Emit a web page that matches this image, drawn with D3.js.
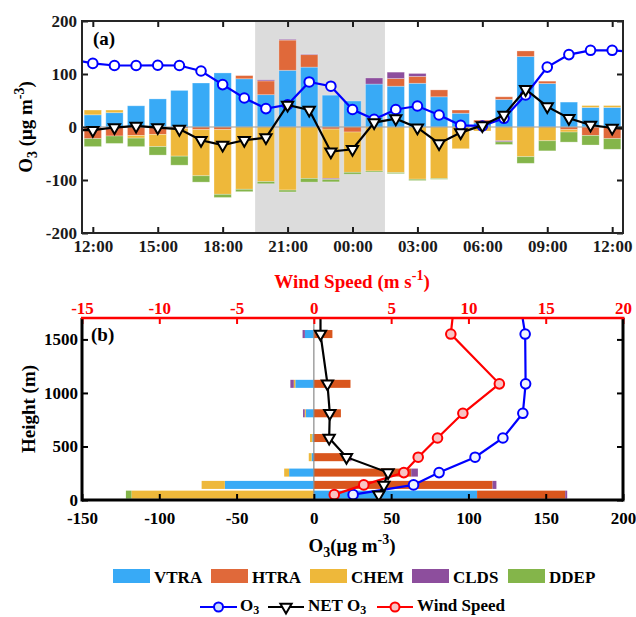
<!DOCTYPE html>
<html>
<head>
<meta charset="utf-8">
<script src="https://cdn.jsdelivr.net/npm/d3@7"></script>
<style>
body{margin:0;background:#fff;}
svg text{font-family:"Liberation Serif","Times New Roman",serif;font-weight:bold;}
</style>
</head>
<body>
<div id="canvas"></div>
<script>
// ---- panel (a): diurnal budget, 12:00 -> 12:00 next day
const hourLabels = ["12:00","13:00","14:00","15:00","16:00","17:00","18:00","19:00","20:00","21:00","22:00","23:00",
  "00:00","01:00","02:00","03:00","04:00","05:00","06:00","07:00","08:00","09:00","10:00","11:00","12:00"];
const timeTicks = ["12:00","15:00","18:00","21:00","00:00","03:00","06:00","09:00","12:00"];

const vtraA = [23,27,40,53,69,83,102,91,61,107,113,60,49,81,77,82.5,57,26,8,52,133,82,47,37,37];
const htraA = [-22,-17,-16,-14,-3,-5,-5,6,26,57,23.5,-4,-9.5,0,14.5,13,13,6,5,5,10.5,4.5,-5,-16,-22];
const chemA = [9,5,-5,-23,-52,-87,-122,-117.5,-103,-119,-97,-93,-76,-83,-86,-98.5,-97,-41,-7.5,-26,-56,-26,-4.5,3.5,3.5];
const cldsA = [0,0,0,0,0,0,0,0,2,1.5,1,-2,0,11.5,12,5.5,0,0,0,-2,0,0,0,0,0];
const ddepA = [-15,-14,-16,-16,-17,-12,-6,-4.5,-4,-3.5,-7,-4.5,-3.5,-2,-2,-2.5,-1.7,0,0,-5,-12.5,-19,-19,-18,-20];

// line series run one hour past each edge (clipped by the axes)
const lineHoursA = [-1,0,1,2,3,4,5,6,7,8,9,10,11,12,13,14,15,16,17,18,19,20,21,22,23,24,25];
const o3A  = [128,120,116,116,116.5,116,105.7,80,54.7,34.7,42,85,77,33,14.5,33,39.6,22.6,3.2,2,16.4,60.4,113,136.6,144.7,144.7,141.3];
const netA = [-6,-6,-1,2,-1,-4,-25,-34,-25,-20,41.5,32,-46.5,-42,8.3,15.8,-1.2,-31,-10.6,3,22.6,71,38.5,16.4,3.8,-1.9,-4];
const nightSpan = [7.5, 13.5];

// ---- panel (b): vertical profile
const levels = [50,141,256,400,579,810,1085,1550];
const vtraB = [105.6,-57.6,-16,-1.5,-1,-5.2,-12,-5.8];
const htraB = [57,115.6,63,23.5,9,17.5,23.7,12];
const chemB = [-118,-15,-3.2,-1.8,-1.5,-0.7,-1,0];
const cldsB = [1.3,2.5,4.3,0.8,0,-1.1,-2.2,-1.5];
const ddepB = [-3.6,0,0,0,0,0,0,0];

const lineLevelsB = [50,141,256,400,579,810,1085,1550,2000];
const o3B   = [25.4,64.5,81,104.3,122.3,135.2,137,136.7,131.7];
const netB  = [42,45.3,48,21.1,9.9,10.3,8.8,4.3,4.3];
const windB = [1.32,3.23,5.82,6.75,8.0,9.64,12.0,8.86,9.2];

const keys = ["VTRA","HTRA","CHEM","CLDS","DDEP"];
const colors = {VTRA:"#38aaf6",HTRA:"#e0693a",CHEM:"#eeb83a",CLDS:"#8d4e9d",DDEP:"#84b54a"};

const width = 636, height = 617;
const svg = d3.select("#canvas").append("svg").attr("width",width).attr("height",height);
const FS = 17;
const plain = d => String(d);
const triangle = d3.symbol(d3.symbolTriangle, 55);

function styleAxis(g, color) {
  g.select(".domain").remove();
  g.attr("font-size", FS).style("color", color);
  g.selectAll(".tick line").attr("stroke-width", 2);
  g.selectAll(".tick text").attr("fill", color);
}

// ================= panel (a) =================
const ma = {left:82, right:623, top:21, bottom:233};
const xa = d3.scaleLinear().domain([-0.5,24.5]).range([ma.left, ma.right]);
const ya = d3.scaleLinear().domain([-200,200]).range([ma.bottom, ma.top]);

svg.append("clipPath").attr("id","clipA").append("rect")
  .attr("x",ma.left).attr("y",ma.top).attr("width",ma.right-ma.left).attr("height",ma.bottom-ma.top);

const ga = svg.append("g").attr("clip-path","url(#clipA)");

ga.append("rect")
  .attr("x",xa(nightSpan[0])).attr("y",ma.top)
  .attr("width",xa(nightSpan[1])-xa(nightSpan[0])).attr("height",ma.bottom-ma.top)
  .attr("fill","#dcdcdc");

const rowsA = hourLabels.map((h,i)=>({i:i, VTRA:vtraA[i], HTRA:htraA[i], CHEM:chemA[i], CLDS:cldsA[i], DDEP:ddepA[i]}));
const stackA = d3.stack().keys(keys).offset(d3.stackOffsetDiverging)(rowsA);
const bwA = (xa(1)-xa(0))*0.8;

ga.selectAll("g.layer").data(stackA).join("g").attr("class","layer")
  .attr("fill", d=>colors[d.key])
  .selectAll("rect").data(d=>d).join("rect")
  .attr("x", d=>xa(d.data.i)-bwA/2)
  .attr("width", bwA)
  .attr("y", d=>ya(d[1]))
  .attr("height", d=>ya(d[0])-ya(d[1]))
  .attr("stroke","#fff").attr("stroke-opacity",0.35).attr("stroke-width",0.8);

ga.append("line").attr("x1",ma.left).attr("x2",ma.right).attr("y1",ya(0)).attr("y2",ya(0))
  .attr("stroke","#9a9a9a").attr("stroke-width",1.2);

const o3PtsA = lineHoursA.map((h,i)=>[h,o3A[i]]);
const netPtsA = lineHoursA.map((h,i)=>[h,netA[i]]);
const lineA = d3.line().x(d=>xa(d[0])).y(d=>ya(d[1]));

ga.append("path").datum(o3PtsA).attr("d",lineA).attr("fill","none").attr("stroke","#0000ff").attr("stroke-width",2.2);
ga.selectAll("circle.o3").data(o3PtsA).join("circle").attr("class","o3")
  .attr("cx",d=>xa(d[0])).attr("cy",d=>ya(d[1])).attr("r",4.8)
  .attr("fill","#fff").attr("stroke","#0000ff").attr("stroke-width",2);

ga.append("path").datum(netPtsA).attr("d",lineA).attr("fill","none").attr("stroke","#000").attr("stroke-width",2.2);
ga.selectAll("path.net").data(netPtsA).join("path").attr("class","net")
  .attr("d",triangle)
  .attr("transform",d=>`translate(${xa(d[0])},${ya(d[1])}) rotate(180)`)
  .attr("fill","#fff").attr("stroke","#000").attr("stroke-width",2);

// axes a
const yTicksA = [-200,-100,0,100,200];
const xTicksA = [0,3,6,9,12,15,18,21,24];
svg.append("g").attr("transform",`translate(${ma.left},0)`)
  .call(d3.axisLeft(ya).tickValues(yTicksA).tickFormat(plain).tickSizeInner(-6).tickSizeOuter(0).tickPadding(5))
  .call(g=>styleAxis(g,"#1a1a1a"));
svg.append("g").attr("transform",`translate(${ma.right},0)`)
  .call(d3.axisRight(ya).tickValues(yTicksA).tickSizeInner(-6).tickSizeOuter(0).tickFormat(""))
  .call(g=>styleAxis(g,"#1a1a1a"));
svg.append("g").attr("transform",`translate(0,${ma.bottom})`)
  .call(d3.axisBottom(xa).tickValues(xTicksA).tickFormat((d,i)=>timeTicks[i]).tickSizeInner(-6).tickSizeOuter(0).tickPadding(7))
  .call(g=>styleAxis(g,"#1a1a1a"));
svg.append("g").attr("transform",`translate(0,${ma.top})`)
  .call(d3.axisTop(xa).tickValues(xTicksA).tickFormat("").tickSizeInner(-6).tickSizeOuter(0))
  .call(g=>styleAxis(g,"#1a1a1a"));
svg.append("rect").attr("x",ma.left).attr("y",ma.top).attr("width",ma.right-ma.left).attr("height",ma.bottom-ma.top)
  .attr("fill","none").attr("stroke","#262626").attr("stroke-width",2);

svg.append("text").attr("x",93).attr("y",45).attr("font-size",19).text("(a)");

const ylabA = svg.append("text").attr("transform","translate(32,127) rotate(-90)")
  .attr("text-anchor","middle").attr("font-size",19);
ylabA.append("tspan").text("O");
ylabA.append("tspan").attr("dy",5).attr("font-size",14).text("3");
ylabA.append("tspan").attr("dy",-5).text(" (μg m");
ylabA.append("tspan").attr("dy",-8).attr("font-size",14).text("-3");
ylabA.append("tspan").attr("dy",8).text(")");

// ================= panel (b) =================
const mb = {left:82, right:623, top:318, bottom:500};
const xb = d3.scaleLinear().domain([-150,200]).range([mb.left, mb.right]);
const xw = d3.scaleLinear().domain([-15,20]).range([mb.left, mb.right]);
const yb = d3.scaleLinear().domain([0,1700]).range([mb.bottom, mb.top]);

svg.append("clipPath").attr("id","clipB").append("rect")
  .attr("x",mb.left).attr("y",mb.top).attr("width",mb.right-mb.left).attr("height",mb.bottom-mb.top);
const gb = svg.append("g").attr("clip-path","url(#clipB)");

const rowsB = levels.map((h,i)=>({h:h, VTRA:vtraB[i], HTRA:htraB[i], CHEM:chemB[i], CLDS:cldsB[i], DDEP:ddepB[i]}));
const stackB = d3.stack().keys(keys).offset(d3.stackOffsetDiverging)(rowsB);
const bhB = yb(0)-yb(75);

gb.selectAll("g.layer").data(stackB).join("g").attr("class","layer")
  .attr("fill", d=>d.key==="HTRA" ? "#d9561d" : colors[d.key])
  .selectAll("rect").data(d=>d).join("rect")
  .attr("x", d=>xb(d[0]))
  .attr("width", d=>xb(d[1])-xb(d[0]))
  .attr("y", d=>yb(d.data.h)-bhB/2)
  .attr("height", bhB);

gb.append("line").attr("x1",xb(0)).attr("x2",xb(0)).attr("y1",mb.top).attr("y2",mb.bottom)
  .attr("stroke","#8a8a8a").attr("stroke-width",1.2);

const o3PtsB = lineLevelsB.map((h,i)=>[o3B[i],h]);
const netPtsB = lineLevelsB.map((h,i)=>[netB[i],h]);
const windPtsB = lineLevelsB.map((h,i)=>[windB[i],h]);

gb.append("path").datum(o3PtsB).attr("d",d3.line().x(d=>xb(d[0])).y(d=>yb(d[1])))
  .attr("fill","none").attr("stroke","#0000ff").attr("stroke-width",2.2);
gb.selectAll("circle.o3").data(o3PtsB).join("circle").attr("class","o3")
  .attr("cx",d=>xb(d[0])).attr("cy",d=>yb(d[1])).attr("r",4.8)
  .attr("fill","#eef3ff").attr("stroke","#0000ff").attr("stroke-width",2);

gb.append("path").datum(windPtsB).attr("d",d3.line().x(d=>xw(d[0])).y(d=>yb(d[1])))
  .attr("fill","none").attr("stroke","#ff0000").attr("stroke-width",2.2);
gb.selectAll("circle.ws").data(windPtsB).join("circle").attr("class","ws")
  .attr("cx",d=>xw(d[0])).attr("cy",d=>yb(d[1])).attr("r",4.8)
  .attr("fill","#f8c4c4").attr("stroke","#ff0000").attr("stroke-width",2);

gb.append("path").datum(netPtsB).attr("d",d3.line().x(d=>xb(d[0])).y(d=>yb(d[1])))
  .attr("fill","none").attr("stroke","#000").attr("stroke-width",2.2);
gb.selectAll("path.net").data(netPtsB).join("path").attr("class","net")
  .attr("d",triangle)
  .attr("transform",d=>`translate(${xb(d[0])},${yb(d[1])}) rotate(180)`)
  .attr("fill","#fff").attr("stroke","#000").attr("stroke-width",2);

// axes b
const yTicksB = [0,500,1000,1500];
svg.append("g").attr("transform",`translate(${mb.left},0)`)
  .call(d3.axisLeft(yb).tickValues(yTicksB).tickFormat(plain).tickSizeInner(-6).tickSizeOuter(0).tickPadding(4))
  .call(g=>styleAxis(g,"#000"));
svg.append("g").attr("transform",`translate(${mb.right},0)`)
  .call(d3.axisRight(yb).tickValues(yTicksB).tickSizeInner(-6).tickSizeOuter(0).tickFormat(""))
  .call(g=>styleAxis(g,"#000"));
svg.append("g").attr("transform",`translate(0,${mb.bottom})`)
  .call(d3.axisBottom(xb).tickValues([-150,-100,-50,0,50,100,150,200]).tickFormat(plain).tickSizeInner(-6).tickSizeOuter(0).tickPadding(12))
  .call(g=>styleAxis(g,"#000"));
svg.append("g").attr("transform",`translate(0,${mb.top})`)
  .call(d3.axisTop(xw).tickValues([-15,-10,-5,0,5,10,15,20]).tickFormat(plain).tickSizeInner(-6).tickSizeOuter(0).tickPadding(4))
  .call(g=>styleAxis(g,"#ff0000"));

svg.append("line").attr("x1",mb.left).attr("x2",mb.left).attr("y1",mb.top).attr("y2",mb.bottom+1.5)
  .attr("stroke","#000").attr("stroke-width",3);
svg.append("line").attr("x1",mb.right).attr("x2",mb.right).attr("y1",mb.top).attr("y2",mb.bottom+1.5)
  .attr("stroke","#000").attr("stroke-width",3);
svg.append("line").attr("x1",mb.left).attr("x2",mb.right).attr("y1",mb.bottom).attr("y2",mb.bottom)
  .attr("stroke","#000").attr("stroke-width",3);
svg.append("line").attr("x1",mb.left-1).attr("x2",mb.right+1.5).attr("y1",mb.top).attr("y2",mb.top)
  .attr("stroke","#ff0000").attr("stroke-width",2.5);

svg.append("text").attr("x",91).attr("y",341).attr("font-size",19).text("(b)");

const wsTitle = svg.append("text").attr("x",352).attr("y",288).attr("text-anchor","middle")
  .attr("font-size",19).attr("fill","#ff0000");
wsTitle.append("tspan").text("Wind Speed (m s");
wsTitle.append("tspan").attr("dy",-8).attr("font-size",14).text("-1");
wsTitle.append("tspan").attr("dy",8).text(")");

svg.append("text").attr("transform","translate(35,409) rotate(-90)")
  .attr("text-anchor","middle").attr("font-size",19).text("Height (m)");

const xlabB = svg.append("text").attr("x",352).attr("y",552).attr("text-anchor","middle").attr("font-size",19);
xlabB.append("tspan").text("O");
xlabB.append("tspan").attr("dy",5).attr("font-size",14).text("3");
xlabB.append("tspan").attr("dy",-5).text("(μg m");
xlabB.append("tspan").attr("dy",-8).attr("font-size",14).text("-3");
xlabB.append("tspan").attr("dy",8).text(")");

// ================= legend =================
const legPatchX = [113,211,310,412,508];
keys.forEach((k,i)=>{
  svg.append("rect").attr("x",legPatchX[i]).attr("y",569).attr("width",37).attr("height",14)
    .attr("fill",colors[k]);
  svg.append("text").attr("x",legPatchX[i]+41).attr("y",583).attr("font-size",FS).text(k);
});

const legLineY = 607;
const legTextY = 611;
// O3
svg.append("line").attr("x1",200).attr("x2",237).attr("y1",legLineY).attr("y2",legLineY)
  .attr("stroke","#0000ff").attr("stroke-width",2.2);
svg.append("circle").attr("cx",218.5).attr("cy",legLineY).attr("r",4.5)
  .attr("fill","#cfe0ff").attr("stroke","#0000ff").attr("stroke-width",2);
const t1 = svg.append("text").attr("x",240).attr("y",legTextY).attr("font-size",FS);
t1.append("tspan").text("O");
t1.append("tspan").attr("dy",3).attr("font-size",12).text("3");
// NET O3
svg.append("line").attr("x1",268).attr("x2",304).attr("y1",legLineY).attr("y2",legLineY)
  .attr("stroke","#000").attr("stroke-width",2.2);
svg.append("path").attr("d",triangle).attr("transform",`translate(286,${legLineY}) rotate(180)`)
  .attr("fill","#fff").attr("stroke","#000").attr("stroke-width",2);
const t2 = svg.append("text").attr("x",308).attr("y",legTextY).attr("font-size",FS);
t2.append("tspan").text("NET O");
t2.append("tspan").attr("dy",3).attr("font-size",12).text("3");
// Wind speed
svg.append("line").attr("x1",377).attr("x2",413).attr("y1",legLineY).attr("y2",legLineY)
  .attr("stroke","#ff0000").attr("stroke-width",2.2);
svg.append("circle").attr("cx",395).attr("cy",legLineY).attr("r",4.5)
  .attr("fill","#f8c4c4").attr("stroke","#ff0000").attr("stroke-width",2);
svg.append("text").attr("x",417).attr("y",legTextY).attr("font-size",FS).text("Wind Speed");
</script>
</body>
</html>
